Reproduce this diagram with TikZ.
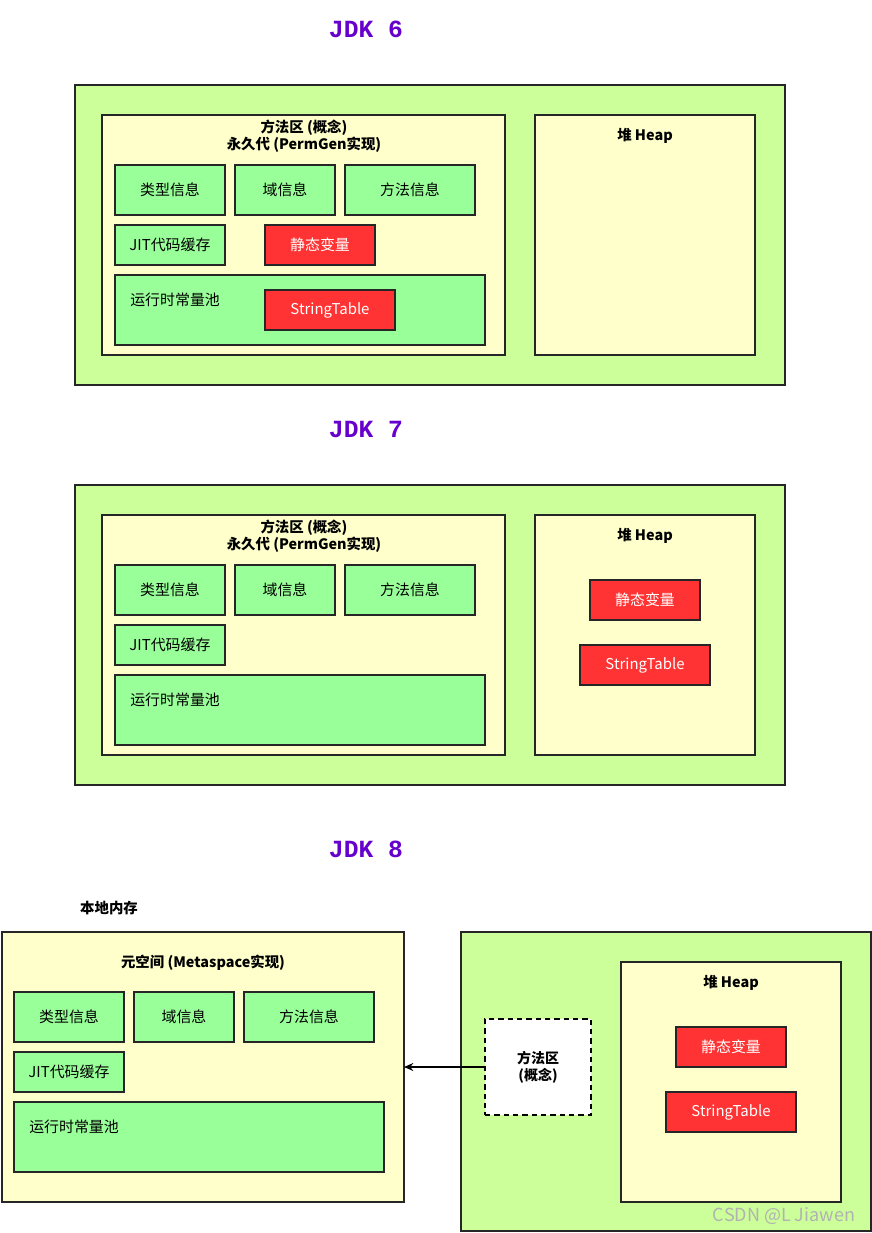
\documentclass[tikz,border=0pt]{standalone}
\usepackage{fontspec}
\setmainfont{Noto Sans CJK SC}
\newfontfamily\jdkfont{Liberation Mono}
\usetikzlibrary{arrows.meta, positioning}
\newcommand\pxu{0.75pt}
\definecolor{outergreen}{HTML}{CCFF99}
\definecolor{areayellow}{HTML}{FFFFCC}
\definecolor{boxgreen}{HTML}{99FF99}
\definecolor{boxred}{HTML}{FF3333}
\definecolor{jdkpurple}{HTML}{6600CC}
\definecolor{edgegray}{HTML}{262626}
\tikzset{
  wh/.style 2 args={minimum width=#1*\pxu, minimum height=#2*\pxu},
  outer/.style   ={rectangle, draw=edgegray, fill=outergreen, line width=1.1pt,
    inner sep=0pt, outer sep=0pt},
  area/.style    ={rectangle, draw=edgegray, fill=areayellow, line width=1.1pt,
    inner sep=0pt, outer sep=0pt},
  info/.style    ={rectangle, draw=edgegray, fill=boxgreen, line width=1.1pt,
    inner sep=0pt, outer sep=0pt, font=\fontsize{11.2}{13}\selectfont},
  hot/.style     ={rectangle, draw=edgegray, fill=boxred, line width=1.1pt,
    inner sep=0pt, outer sep=0pt, text=white, font=\fontsize{11.2}{13}\selectfont},
  concept/.style ={rectangle, draw=black, fill=white, line width=1.1pt,
    dash pattern=on 4pt off 3pt, inner sep=0pt, outer sep=0pt, align=center,
    font=\bfseries\fontsize{10.5}{13}\selectfont},
  heading/.style ={align=center, inner sep=0pt, font=\bfseries\fontsize{10.8}{13}\selectfont},
  lbl/.style     ={inner sep=0pt, anchor=west, font=\fontsize{11.2}{13}\selectfont},
  jdk/.style     ={text=jdkpurple, inner sep=0pt, font=\jdkfont\bfseries\fontsize{18.5}{20}\selectfont},
  arrow/.style   ={line width=1.1pt, -{Stealth[length=7pt, width=6pt]}},
}

\begin{document}
\begin{tikzpicture}[x=0.75pt, y=-0.75pt]
  \useasboundingbox (0,0) rectangle (872,1233);

  % ---------- JDK 6 ----------
  \node[jdk] (jdk6) at (366,29) {JDK 6};
  \node[outer, wh={710}{300}] (outer6) at (430,235) {};
  \node[area,  wh={403}{240}] (perm6)  at (303.5,235) {};
  \node[area,  wh={220}{240}] (heap6)  at (645,235) {};
  \node[heading] (permtitle6) at (304,136) {方法区 (概念)\\永久代 (PermGen实现)};
  \node[heading] (heaptitle6) at (645,136) {堆 Heap};
  \node[info, wh={110}{50}] (type6)   at (170,190) {类型信息};
  \node[info, wh={100}{50}] (field6)  at (285,190) {域信息};
  \node[info, wh={130}{50}] (method6) at (410,190) {方法信息};
  \node[info, wh={110}{40}] (jit6)    at (170,245) {JIT代码缓存};
  \node[hot,  wh={110}{40}] (static6) at (320,245) {静态变量};
  \node[info, wh={370}{70}] (pool6)   at (300,310) {};
  \node[lbl] (poollbl6) at ([shift={(15,25)}]pool6.north west) {运行时常量池};
  \node[hot,  wh={130}{40}] (strtab6) at (330,310) {StringTable};

  % ---------- JDK 7 ----------
  \node[jdk] (jdk7) at (366,429) {JDK 7};
  \node[outer, wh={710}{300}] (outer7) at (430,635) {};
  \node[area,  wh={403}{240}] (perm7)  at (303.5,635) {};
  \node[area,  wh={220}{240}] (heap7)  at (645,635) {};
  \node[heading] (permtitle7) at (304,536) {方法区 (概念)\\永久代 (PermGen实现)};
  \node[heading] (heaptitle7) at (645,536) {堆 Heap};
  \node[info, wh={110}{50}] (type7)   at (170,590) {类型信息};
  \node[info, wh={100}{50}] (field7)  at (285,590) {域信息};
  \node[info, wh={130}{50}] (method7) at (410,590) {方法信息};
  \node[info, wh={110}{40}] (jit7)    at (170,645) {JIT代码缓存};
  \node[info, wh={370}{70}] (pool7)   at (300,710) {};
  \node[lbl] (poollbl7) at ([shift={(15,25)}]pool7.north west) {运行时常量池};
  \node[hot,  wh={110}{40}] (static7) at (645,600) {静态变量};
  \node[hot,  wh={130}{40}] (strtab7) at (645,665) {StringTable};

  % ---------- JDK 8 ----------
  \node[jdk] (jdk8) at (366,849) {JDK 8};
  \node[heading] (native8) at (109,908) {本地内存};
  \node[area, wh={402}{270}] (meta8) at (203,1067) {};
  \node[heading] (metatitle8) at (203,963) {元空间 (Metaspace实现)};
  \node[info, wh={110}{50}] (type8)   at (69,1017) {类型信息};
  \node[info, wh={100}{50}] (field8)  at (184,1017) {域信息};
  \node[info, wh={130}{50}] (method8) at (309,1017) {方法信息};
  \node[info, wh={110}{40}] (jit8)    at (69,1072) {JIT代码缓存};
  \node[info, wh={370}{70}] (pool8)   at (199,1137) {};
  \node[lbl] (poollbl8) at ([shift={(15,25)}]pool8.north west) {运行时常量池};

  \node[outer, wh={410}{299}] (outer8) at (666,1081.5) {};
  \node[area,  wh={220}{240}] (heap8)  at (731,1082) {};
  \node[heading] (heaptitle8) at (731,983) {堆 Heap};
  \node[hot, wh={110}{40}] (static8) at (731,1047) {静态变量};
  \node[hot, wh={130}{40}] (strtab8) at (731,1112) {StringTable};
  \node[concept, wh={106}{96}] (method8c) at (538,1067) {方法区\\(概念)};

  \draw[arrow] (method8c.west) -- (meta8.east);

  \node[inner sep=0pt, text=black!30, font=\fontsize{13.5}{15}\selectfont] (mark) at (784,1216) {CSDN @L Jiawen};

\end{tikzpicture}
\end{document}
